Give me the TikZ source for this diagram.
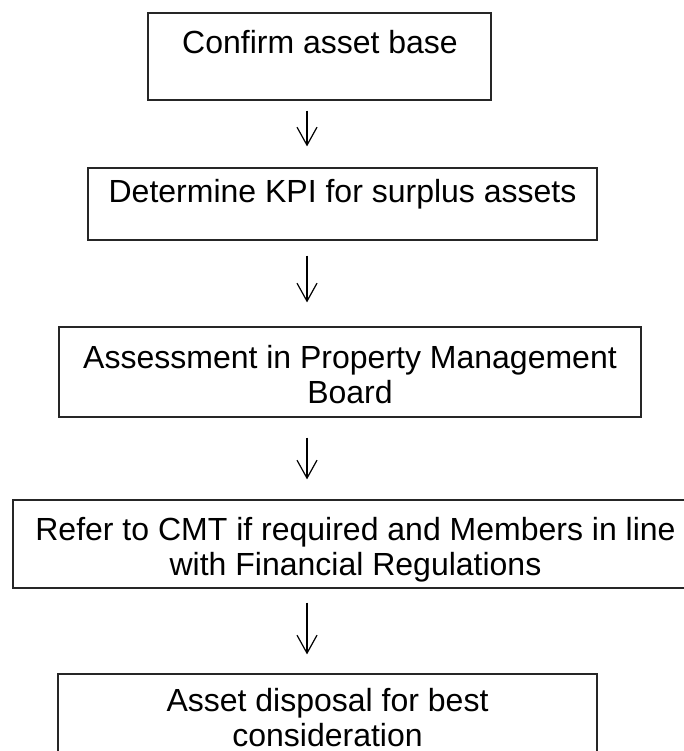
\documentclass[tikz,border=0pt]{standalone}
\usepackage{fontspec}
\setmainfont{Liberation Sans}
\usetikzlibrary{arrows.meta,calc}
\begin{document}
\begin{tikzpicture}[x=1pt,y=-1pt,
  box/.style={draw=black!85, line width=1.2pt, rectangle, inner sep=0pt},
  lbl/.style={font=\fontsize{32}{35}\selectfont, align=center, inner sep=0pt, anchor=base},
  arr/.style={line width=1.2pt, -{Straight Barb[length=18pt,width=20pt,line width=1.2pt]}}]
\useasboundingbox (0,0) rectangle (684,751);
\clip (0,0) rectangle (684,751);
% boxes
\node[box, minimum width=343pt, minimum height=87pt] (b1) at (319.5,56.5) {};
\node[box, minimum width=509pt, minimum height=72pt] (b2) at (342.5,204) {};
\node[box, minimum width=582pt, minimum height=90pt] (b3) at (350,372) {};
\node[box, minimum width=685pt, minimum height=88pt] (b4) at (355.5,544) {};
\node[box, minimum width=539pt, minimum height=116pt] (b5) at (327.5,732) {};
% texts (anchor=base refers to the last line here)
\node[lbl] (t1) at (320,54) {Confirm asset base};
\node[lbl] (t2) at (342.5,203) {Determine KPI for surplus assets};
\node[lbl] (t3) at (350,403) {Assessment in Property Management\\Board};
\node[lbl] (t4) at (355.5,575) {Refer to CMT if required and Members in line\\with Financial Regulations};
\node[lbl] (t5) at (327.5,746) {Asset disposal for best\\consideration};
% arrows
\coordinate (ax) at (307,0);
\draw[arr] ($(b1.south -| ax)+(0,10)$) -- ($(b2.north -| ax)+(0,-21)$);
\draw[arr] ($(b2.south -| ax)+(0,15)$) -- ($(b3.north -| ax)+(0,-24)$);
\draw[arr] ($(b3.south -| ax)+(0,20)$) -- ($(b4.north -| ax)+(0,-20)$);
\draw[arr] ($(b4.south -| ax)+(0,14)$) -- ($(b5.north -| ax)+(0,-19)$);
\end{tikzpicture}
\end{document}
